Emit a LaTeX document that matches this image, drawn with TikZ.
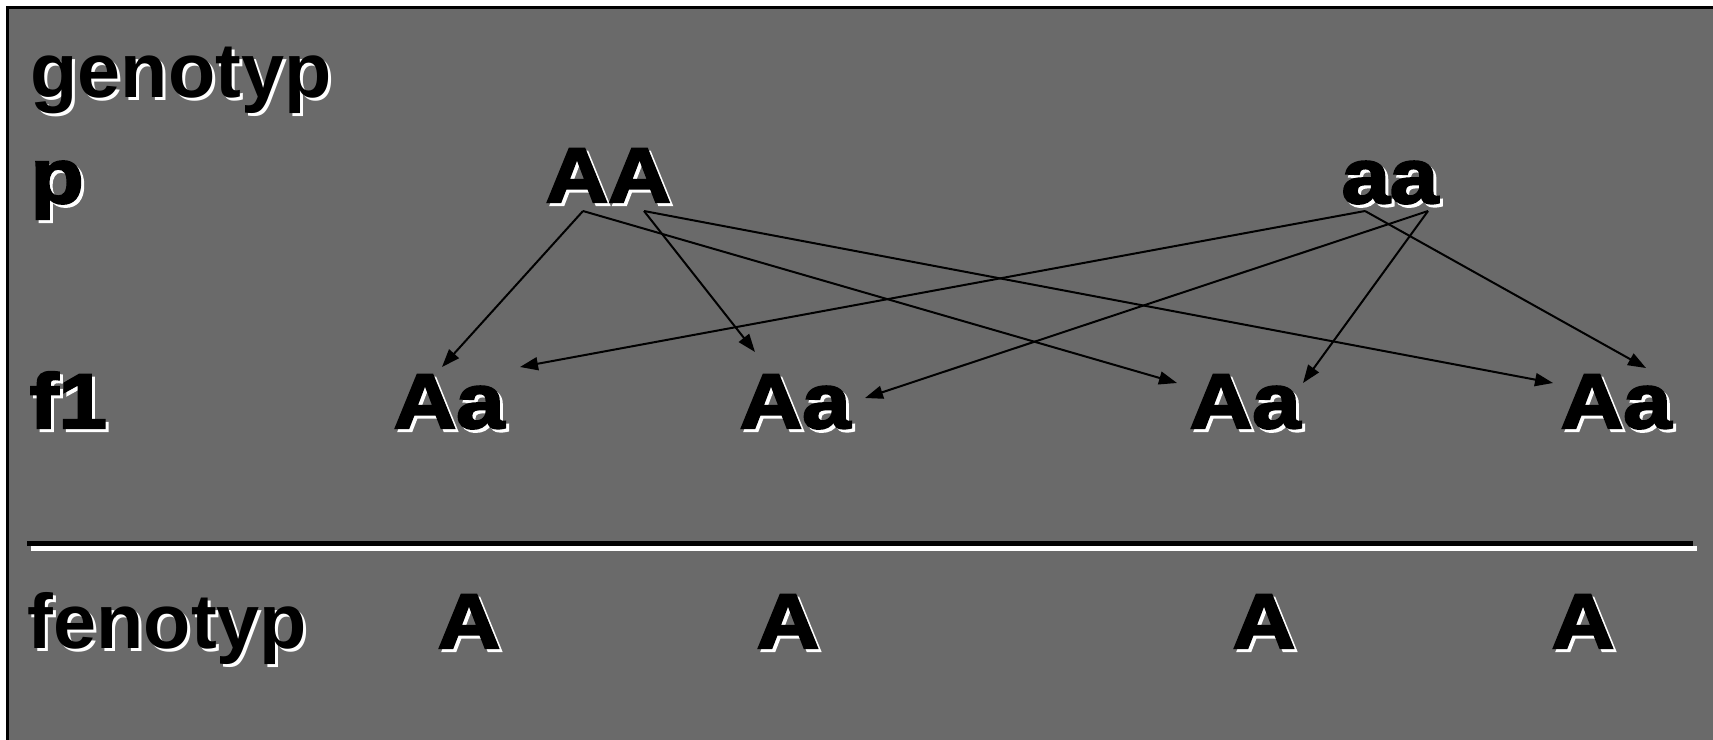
\documentclass[tikz,border=0pt]{standalone}
\usepackage{fontspec}
\setmainfont{Liberation Sans}
\newfontfamily\heavyfont[FakeBold=3,FakeStretch=1.12]{Liberation Sans Bold}
\usetikzlibrary{arrows.meta}
\definecolor{slide}{RGB}{106,106,106}
% black text with a white drop shadow
\newcommand\shadowed[1]{\makebox[0pt][l]{\hspace{0.03cm}\raisebox{-0.03cm}{\color{white}#1}}#1}
\begin{document}
\begin{tikzpicture}[
    x=0.01cm, y=-0.01cm,
    label/.style={anchor=base west,inner sep=0pt,font=\fontsize{22}{26}\selectfont\bfseries},
    gene/.style={anchor=base west,inner sep=0pt,font=\fontsize{22}{26}\selectfont\heavyfont},
    cross/.style={-{Triangle[length=0.18cm,width=0.13cm]},line width=0.02cm}
]
    \useasboundingbox (0,0) rectangle (1713,739);
    \clip (0,0) rectangle (1713,739);
    \fill[white] (0,0) rectangle (1713,739);
    \filldraw[fill=slide,draw=black,line width=0.03cm] (7.5,7.5) rectangle (1740,760);

    % row labels
    \node[label] (lgen) at (30,97) {\shadowed{genotyp}};
    \node[gene] (lp) at (30,203) {\shadowed{p}};
    \node[gene] (lf1) at (29,428) {\shadowed{f1}};
    \node[label] (lfen) at (27,648) {\shadowed{fenotyp}};

    % parents
    \node[gene] (pAA) at (545,202) {\shadowed{AA}};
    \node[gene] (paa) at (1341,203) {\shadowed{aa}};
    \coordinate (AA1) at (583,211);
    \coordinate (AA2) at (644,211);
    \coordinate (aa1) at (1365,211);
    \coordinate (aa2) at (1428,211);

    % offspring
    \node[gene] (f1a) at (393,428) {\shadowed{Aa}};
    \node[gene] (f1b) at (739,428) {\shadowed{Aa}};
    \node[gene] (f1c) at (1189,428) {\shadowed{Aa}};
    \node[gene] (f1d) at (1560,428) {\shadowed{Aa}};
    \coordinate (f1a-l) at (442,367);
    \coordinate (f1a-r) at (520,367);
    \coordinate (f1b-l) at (755,352);
    \coordinate (f1b-r) at (865,398);
    \coordinate (f1c-l) at (1177,383);
    \coordinate (f1c-r) at (1303,383);
    \coordinate (f1d-l) at (1553,383);
    \coordinate (f1d-r) at (1646,368);

    \draw[cross] (AA1) -- (f1a-l);
    \draw[cross] (AA1) -- (f1c-l);
    \draw[cross] (AA2) -- (f1b-l);
    \draw[cross] (AA2) -- (f1d-l);
    \draw[cross] (aa1) -- (f1a-r);
    \draw[cross] (aa1) -- (f1d-r);
    \draw[cross] (aa2) -- (f1b-r);
    \draw[cross] (aa2) -- (f1c-r);

    % rule
    \coordinate (rl) at (27,543.5);
    \coordinate (rr) at (1693,543.5);
    \draw[white,line width=0.05cm] ([shift={(4,5)}]rl) -- ([shift={(4,5)}]rr);
    \draw[black,line width=0.05cm] (rl) -- (rr);

    % phenotypes
    \node[gene] (fa) at (437,648) {\shadowed{A}};
    \node[gene] (fb) at (756,648) {\shadowed{A}};
    \node[gene] (fc) at (1232,648) {\shadowed{A}};
    \node[gene] (fd) at (1551,648) {\shadowed{A}};
\end{tikzpicture}
\end{document}
